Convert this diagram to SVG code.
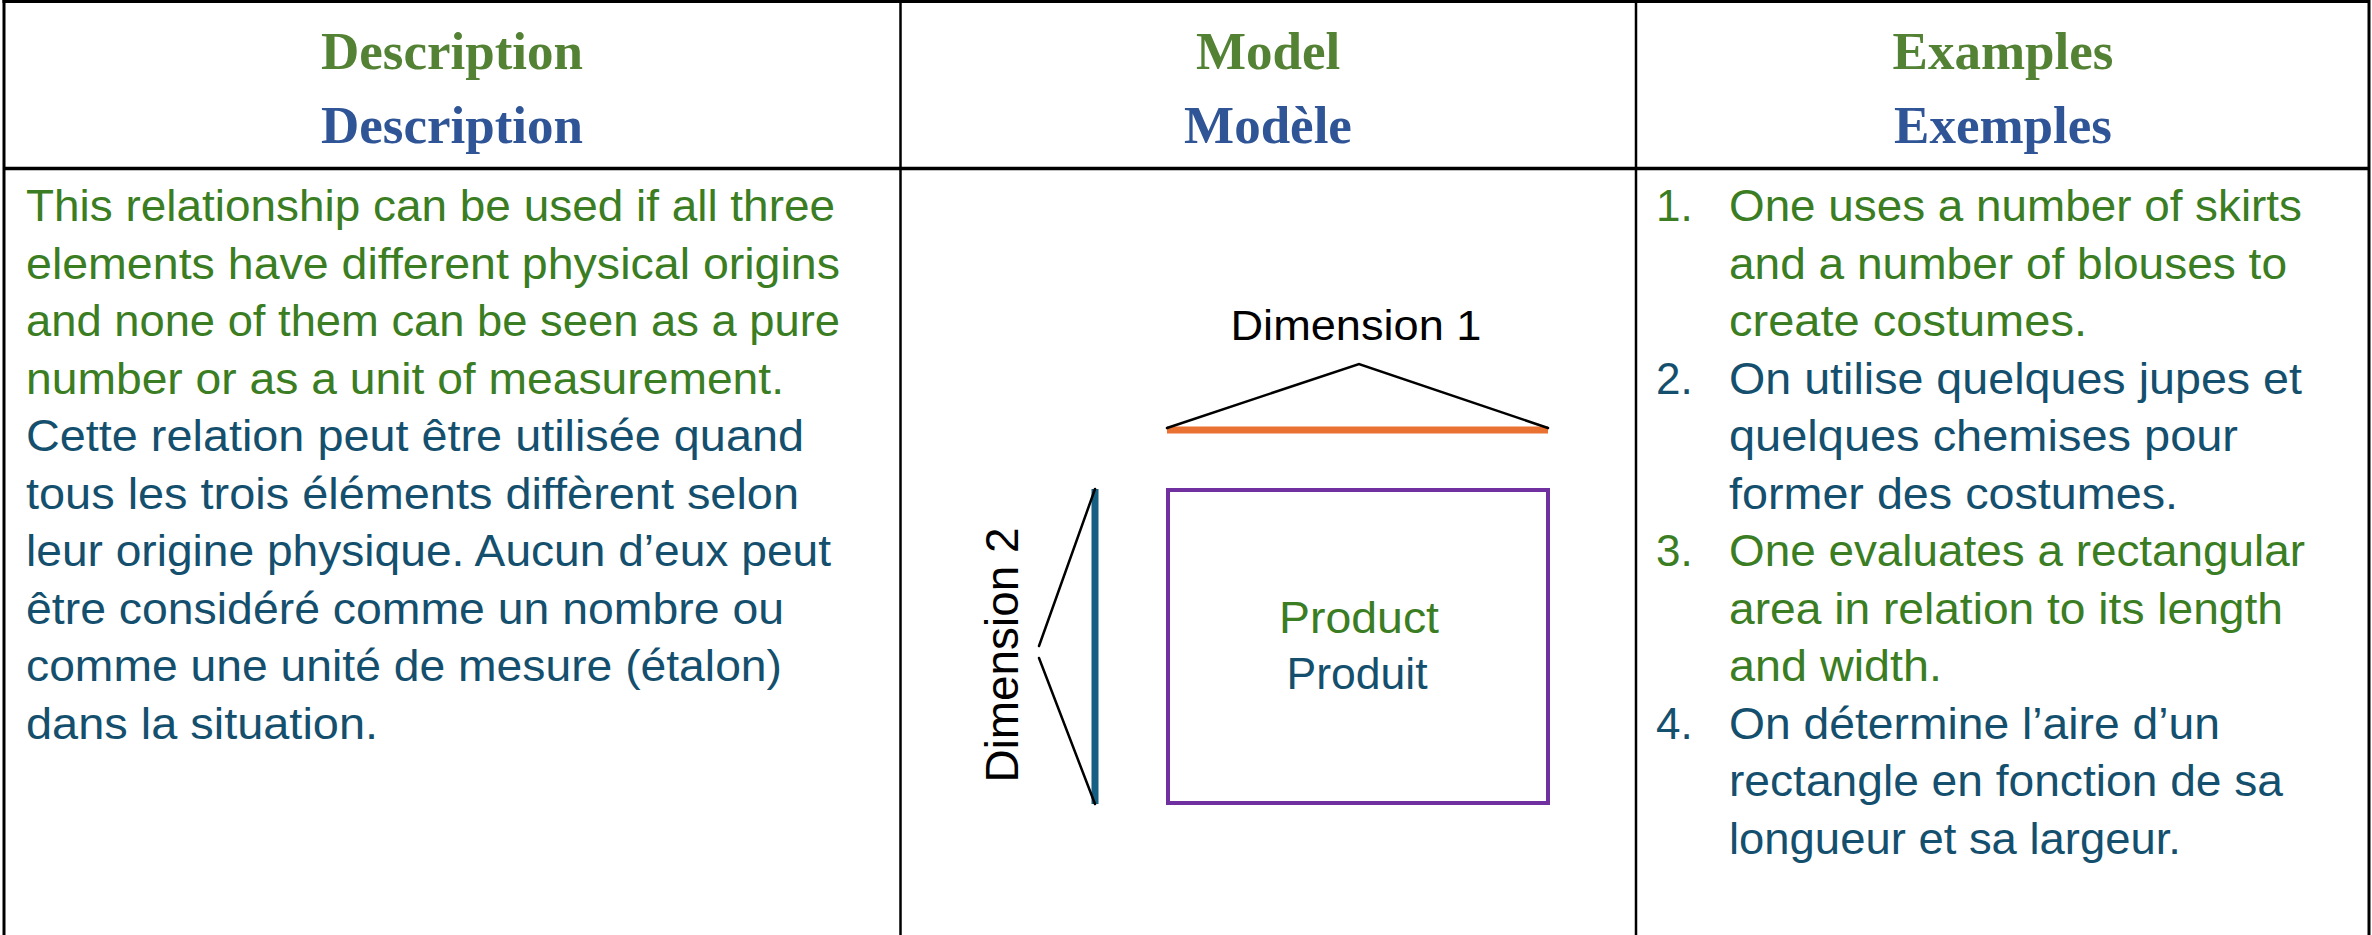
<svg xmlns="http://www.w3.org/2000/svg" width="2372" height="935" viewBox="0 0 2372 935">
<style>
.grid{stroke:#000;fill:none}
.hd{font-family:"Liberation Serif","Times New Roman",serif;font-weight:bold;font-size:53px;text-anchor:middle}
.hg{fill:#548235}
.hb{fill:#2F5597}
.bd{font-family:"Liberation Sans",Arial,sans-serif;font-size:44px}
.g{fill:#3B7D23}
.b{fill:#14506E}
.lbl{font-family:"Liberation Sans",Arial,sans-serif;fill:#000}
.br{stroke:#000;stroke-width:2.5;fill:none;stroke-linecap:round}
</style>
<rect width="2372" height="935" fill="#fff"/>
<g id="table">
<line class="grid" x1="2.5" y1="1.5" x2="2369.5" y2="1.5" stroke-width="3"/>
<line class="grid" x1="4" y1="0" x2="4" y2="935" stroke-width="3"/>
<line class="grid" x1="2369" y1="0" x2="2369" y2="935" stroke-width="3"/>
<line class="grid" x1="4" y1="168.5" x2="2369" y2="168.5" stroke-width="3.5"/>
<line class="grid" x1="900.5" y1="1.5" x2="900.5" y2="935" stroke-width="2.5"/>
<line class="grid" x1="1636" y1="1.5" x2="1636" y2="935" stroke-width="2.5"/>
</g>
<g id="header-description">
<text class="hd hg" x="452" y="69">Description</text>
<text class="hd hb" x="452" y="143">Description</text>
</g>
<g id="header-model">
<text class="hd hg" x="1268" y="69">Model</text>
<text class="hd hb" x="1268" y="143">Modèle</text>
</g>
<g id="header-examples">
<text class="hd hg" x="2003" y="69">Examples</text>
<text class="hd hb" x="2003" y="143">Exemples</text>
</g>
<g id="description-text" class="bd">
<text class="g" x="26" y="221" textLength="809" lengthAdjust="spacingAndGlyphs">This relationship can be used if all three</text>
<text class="g" x="26" y="278.5" textLength="814" lengthAdjust="spacingAndGlyphs">elements have different physical origins</text>
<text class="g" x="26" y="336" textLength="814" lengthAdjust="spacingAndGlyphs">and none of them can be seen as a pure</text>
<text class="g" x="26" y="393.5" textLength="758" lengthAdjust="spacingAndGlyphs">number or as a unit of measurement.</text>
<text class="b" x="26" y="451" textLength="778" lengthAdjust="spacingAndGlyphs">Cette relation peut être utilisée quand</text>
<text class="b" x="26" y="508.5" textLength="773" lengthAdjust="spacingAndGlyphs">tous les trois éléments diffèrent selon</text>
<text class="b" x="26" y="566" textLength="805" lengthAdjust="spacingAndGlyphs">leur origine physique. Aucun d’eux peut</text>
<text class="b" x="26" y="623.5" textLength="758" lengthAdjust="spacingAndGlyphs">être considéré comme un nombre ou</text>
<text class="b" x="26" y="681" textLength="756" lengthAdjust="spacingAndGlyphs">comme une unité de mesure (étalon)</text>
<text class="b" x="26" y="738.5" textLength="352" lengthAdjust="spacingAndGlyphs">dans la situation.</text>
</g>
<g id="dimension1">
<line x1="1167" y1="430" x2="1548" y2="430" stroke="#E97132" stroke-width="7"/>
<text class="lbl" x="1356" y="340" font-size="42" text-anchor="middle" textLength="251" lengthAdjust="spacingAndGlyphs">Dimension 1</text>
</g>
<g id="dimension2">
<line x1="1095" y1="489" x2="1095" y2="804" stroke="#156082" stroke-width="7"/>
<text class="lbl" transform="translate(1018,655) rotate(-90)" x="0" y="0" font-size="46" text-anchor="middle" textLength="255" lengthAdjust="spacingAndGlyphs">Dimension 2</text>
</g>
<g id="product">
<rect x="1168" y="490" width="380" height="313" fill="none" stroke="#7030A0" stroke-width="4"/>
<text class="bd g" x="1359" y="633" font-size="42" text-anchor="middle" textLength="160" lengthAdjust="spacingAndGlyphs">Product</text>
<text class="bd b" x="1357" y="689" font-size="42" text-anchor="middle" textLength="141" lengthAdjust="spacingAndGlyphs">Produit</text>
</g>
<g id="connectors">
<polyline class="br" points="1167,428 1359,364 1548,428"/>
<line class="br" x1="1095" y1="489" x2="1039" y2="646"/>
<line class="br" x1="1039" y1="658" x2="1095" y2="804"/>
</g>
<g id="examples-text" class="bd">
<text class="g" x="1656" y="221">1.</text>
<text class="g" x="1729" y="221" textLength="573" lengthAdjust="spacingAndGlyphs">One uses a number of skirts</text>
<text class="g" x="1729" y="278.5" textLength="558" lengthAdjust="spacingAndGlyphs">and a number of blouses to</text>
<text class="g" x="1729" y="336" textLength="358" lengthAdjust="spacingAndGlyphs">create costumes.</text>
<text class="b" x="1656" y="393.5">2.</text>
<text class="b" x="1729" y="393.5" textLength="573" lengthAdjust="spacingAndGlyphs">On utilise quelques jupes et</text>
<text class="b" x="1729" y="451" textLength="509" lengthAdjust="spacingAndGlyphs">quelques chemises pour</text>
<text class="b" x="1729" y="508.5" textLength="449" lengthAdjust="spacingAndGlyphs">former des costumes.</text>
<text class="g" x="1656" y="566">3.</text>
<text class="g" x="1729" y="566" textLength="576" lengthAdjust="spacingAndGlyphs">One evaluates a rectangular</text>
<text class="g" x="1729" y="623.5" textLength="554" lengthAdjust="spacingAndGlyphs">area in relation to its length</text>
<text class="g" x="1729" y="681" textLength="213" lengthAdjust="spacingAndGlyphs">and width.</text>
<text class="b" x="1656" y="738.5">4.</text>
<text class="b" x="1729" y="738.5" textLength="491" lengthAdjust="spacingAndGlyphs">On détermine l’aire d’un</text>
<text class="b" x="1729" y="796" textLength="554" lengthAdjust="spacingAndGlyphs">rectangle en fonction de sa</text>
<text class="b" x="1729" y="853.5" textLength="452" lengthAdjust="spacingAndGlyphs">longueur et sa largeur.</text>
</g>
</svg>
